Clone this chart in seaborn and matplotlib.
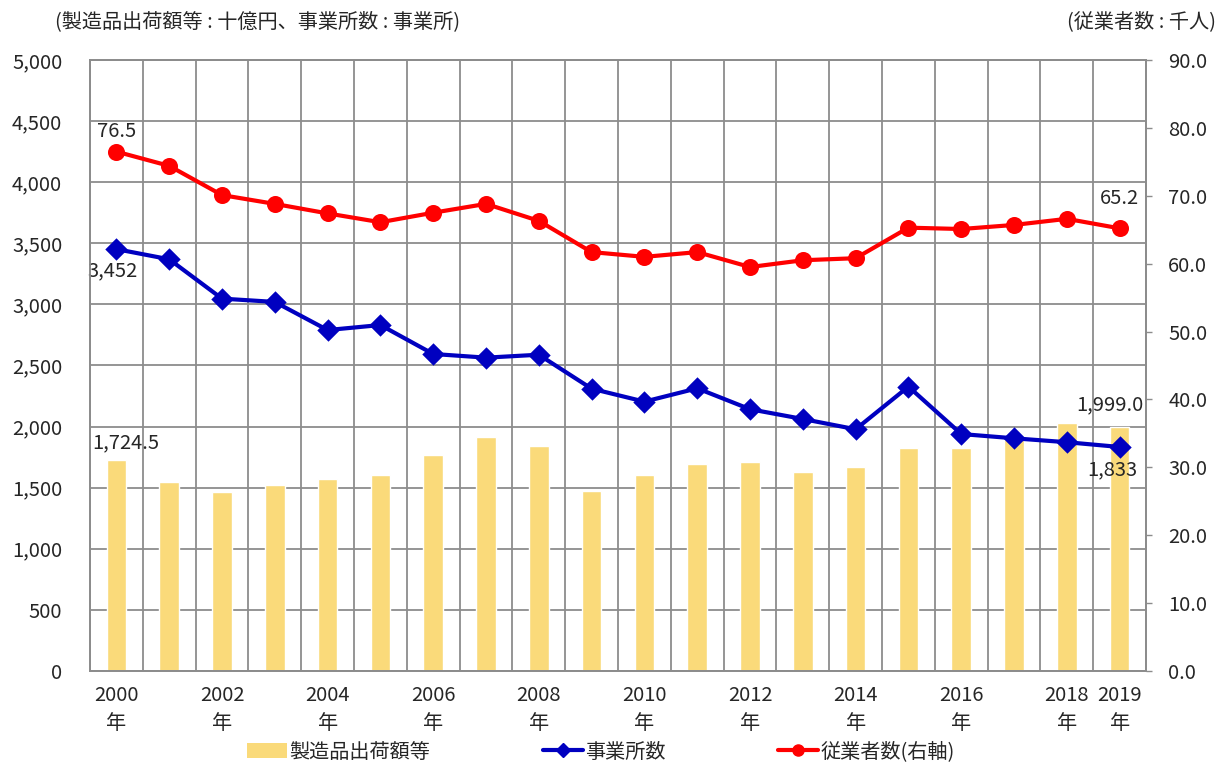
import numpy as np
import matplotlib
matplotlib.use("Agg")
import matplotlib.pyplot as plt
from matplotlib.lines import Line2D
from matplotlib.patches import Patch
import seaborn as sns

# ==========================================
# Data
# ==========================================
YEARS = list(range(2000, 2020))
SHIPMENTS = [1724.5, 1545, 1464, 1520, 1570, 1603, 1768, 1913, 1842, 1472,
             1603, 1692, 1711, 1625, 1670, 1826, 1826, 1900, 2030, 1999.0]   # 十億円
ESTABLISHMENTS = [3452, 3369, 3047, 3020, 2790, 2831, 2594, 2564, 2588, 2310,
                  2204, 2313, 2142, 2062, 1978, 2327, 1939, 1904, 1872, 1833]  # 事業所
EMPLOYEES = [76.5, 74.4, 70.1, 68.8, 67.4, 66.1, 67.5, 68.8, 66.3, 61.7,
             61.0, 61.7, 59.5, 60.5, 60.8, 65.3, 65.1, 65.7, 66.6, 65.2]      # 千人

LEGEND_LABELS = ["製造品出荷額等", "事業所数", "従業者数(右軸)"]
LEFT_UNIT = "(製造品出荷額等 : 十億円、事業所数 : 事業所)"
RIGHT_UNIT = "(従業者数 : 千人)"

BAR_COLOR = "#FADA7A"
BLUE = "#0000C0"
RED = "#FF0000"
GRID = "#8C8C8C"
FS = 14.5

sns.set_style("white")
plt.rcParams["font.family"] = ["Noto Sans CJK JP", "DejaVu Sans"]

fig = plt.figure(figsize=(12.26, 7.67), dpi=100)
ax = fig.add_axes([0.0734, 0.1252, 0.8614, 0.7966])
ax2 = ax.twinx()

labels = [str(y) for y in YEARS]

# bars + establishments on left axis
sns.barplot(x=labels, y=SHIPMENTS, color=BAR_COLOR, saturation=1, width=0.37,
            ax=ax, zorder=2)
sns.pointplot(x=labels, y=ESTABLISHMENTS, color=BLUE, markers="D", errorbar=None,
              markersize=9, linewidth=3, ax=ax, zorder=3)
# employees on right axis
sns.pointplot(x=labels, y=EMPLOYEES, color=RED, markers="o", errorbar=None,
              markersize=10, linewidth=3, ax=ax2, zorder=3)

ax.set_ylim(0, 5000)
ax2.set_ylim(0, 90)
ax.set_xlim(-0.5, len(YEARS) - 0.5)

ax.set_yticks(np.arange(0, 5001, 500))
ax.set_yticklabels([f"{v:,}" for v in np.arange(0, 5001, 500)])
ax2.set_yticks(np.arange(0, 91, 10))
ax2.set_yticklabels([f"{v:.1f}" for v in np.arange(0, 91, 10)])

xt = [f"{y}\n年" if (y % 2 == 0 or y == YEARS[-1]) else "" for y in YEARS]
ax.set_xticks(range(len(YEARS)))
ax.set_xticklabels(xt, linespacing=1.45)
ax.set_xticks(np.arange(-0.5, len(YEARS), 1), minor=True)

ax.set_xlabel("")
ax.set_ylabel("")
ax2.set_ylabel("")

ax.set_axisbelow(True)
ax.grid(axis="y", which="major", color=GRID, linewidth=1.3)
ax.grid(axis="x", which="minor", color=GRID, linewidth=1.3)
ax.grid(axis="x", which="major", visible=False)
ax2.grid(False)

ax.tick_params(axis="y", length=0, pad=20, labelsize=FS)
ax.tick_params(axis="x", which="both", length=0, pad=10, labelsize=FS)
ax2.tick_params(axis="y", length=4, width=1, color=GRID, pad=12, labelsize=FS)

for a in (ax, ax2):
    for s in a.spines.values():
        s.set_color(GRID)
        s.set_linewidth(1.3)

# data labels for first and last points
ax2.annotate(f"{EMPLOYEES[0]:.1f}", (0, EMPLOYEES[0]), xytext=(0, 7),
             textcoords="offset points", ha="center", va="bottom", fontsize=FS)
ax2.annotate(f"{EMPLOYEES[-1]:.1f}", (len(YEARS) - 1, EMPLOYEES[-1]), xytext=(0, 14),
             textcoords="offset points", ha="center", va="bottom", fontsize=FS)
ax.annotate(f"{ESTABLISHMENTS[0]:,}", (0, ESTABLISHMENTS[0]), xytext=(-3, -8),
            textcoords="offset points", ha="center", va="top", fontsize=FS)
ax.annotate(f"{ESTABLISHMENTS[-1]:,}", (len(YEARS) - 1, ESTABLISHMENTS[-1]), xytext=(-5, -9),
            textcoords="offset points", ha="center", va="top", fontsize=FS)
ax.annotate(f"{SHIPMENTS[0]:,.1f}", (0, SHIPMENTS[0]), xytext=(7, 5),
            textcoords="offset points", ha="center", va="bottom", fontsize=FS)
ax.annotate(f"{SHIPMENTS[-1]:,.1f}", (len(YEARS) - 1, SHIPMENTS[-1]), xytext=(-7, 8),
            textcoords="offset points", ha="center", va="bottom", fontsize=FS)

# unit captions
fig.text(55 / 1226, 1 - 22 / 767, LEFT_UNIT, ha="left", va="center", fontsize=FS)
fig.text(1216 / 1226, 1 - 22 / 767, RIGHT_UNIT, ha="right", va="center", fontsize=FS)

handles = [
    Patch(facecolor=BAR_COLOR, edgecolor="none"),
    Line2D([], [], color=BLUE, marker="D", markersize=7, linewidth=3),
    Line2D([], [], color=RED, marker="o", markersize=8, linewidth=3),
]
fig.legend(handles, LEGEND_LABELS, loc="center", bbox_to_anchor=(0.49, 1 - 752 / 767),
           ncol=3, frameon=False, fontsize=FS, handlelength=2.0, handletextpad=0.1,
           columnspacing=5.6)

fig.savefig("out.png", dpi=100)
